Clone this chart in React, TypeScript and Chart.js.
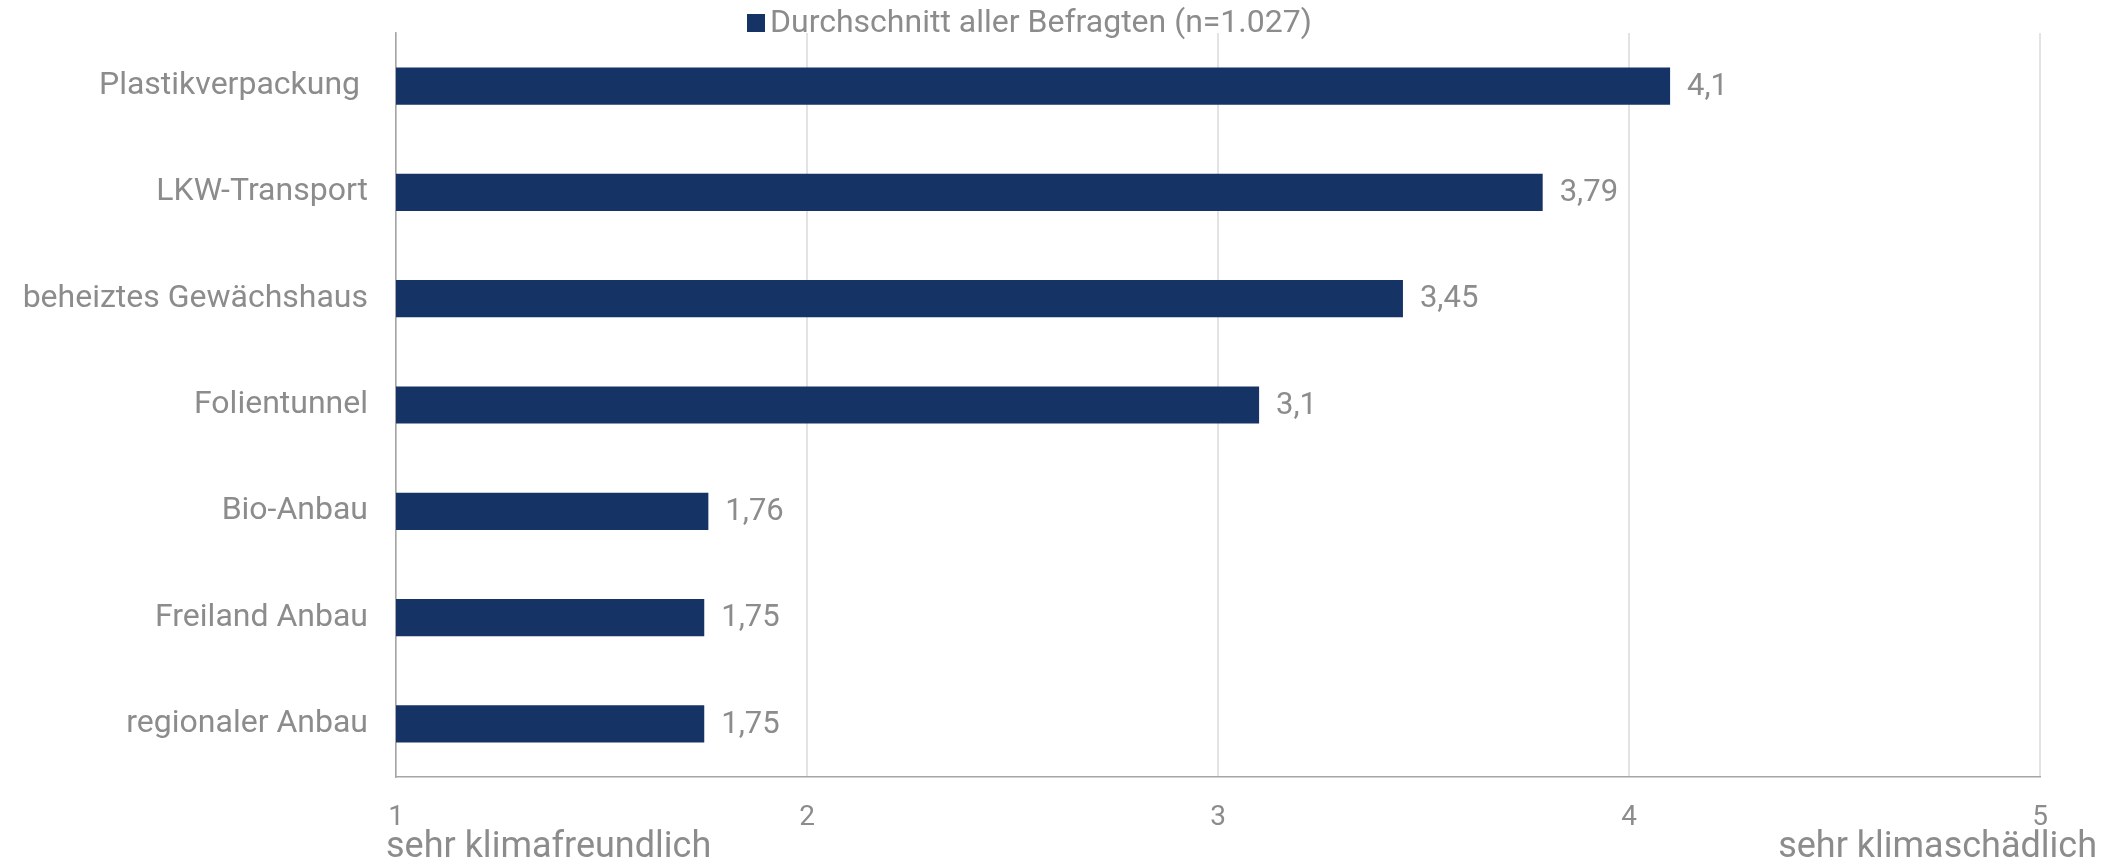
import React, { useEffect, useRef } from 'react';
import { Chart, registerables } from 'chart.js';

Chart.register(...registerables);

const categories = [
  'Plastikverpackung ',
  'LKW-Transport',
  'beheiztes Gewächshaus',
  'Folientunnel',
  'Bio-Anbau',
  'Freiland Anbau',
  'regionaler Anbau',
];
const values = [4.1, 3.79, 3.45, 3.1, 1.76, 1.75, 1.75];
const seriesLabel = 'Durchschnitt aller Befragten (n=1.027)';
const xMin = 1;
const xMax = 5;
const xStep = 1;
const xEndLabels = ['sehr klimafreundlich', 'sehr klimaschädlich'];

const BAR_COLOR = '#163366';
const TEXT_COLOR = '#8c8c8c';
const FONT = 'Roboto';

const fmt = (v: number) => String(v).replace('.', ',');

const legendPlugin = {
  id: 'customLegend',
  afterDraw(chart: any) {
    const ctx = chart.ctx;
    ctx.save();
    ctx.fillStyle = BAR_COLOR;
    ctx.fillRect(747, 14, 18, 18);
    ctx.fillStyle = TEXT_COLOR;
    ctx.font = `32px ${FONT}`;
    ctx.textAlign = 'left';
    ctx.textBaseline = 'alphabetic';
    ctx.fillText(seriesLabel, 770, 32);
    ctx.restore();
  },
};

const dataLabelPlugin = {
  id: 'dataLabels',
  afterDatasetsDraw(chart: any) {
    const ctx = chart.ctx;
    const meta = chart.getDatasetMeta(0);
    ctx.save();
    ctx.fillStyle = TEXT_COLOR;
    ctx.font = `31px ${FONT}`;
    ctx.textAlign = 'left';
    ctx.textBaseline = 'middle';
    meta.data.forEach((el: any, i: number) => {
      ctx.fillText(fmt(values[i]), el.x + 17, el.y + 1);
    });
    ctx.restore();
  },
};

const endLabelPlugin = {
  id: 'endLabels',
  afterDraw(chart: any) {
    const ctx = chart.ctx;
    const xs = chart.scales.x;
    ctx.save();
    ctx.fillStyle = TEXT_COLOR;
    ctx.font = `36px ${FONT}`;
    ctx.textBaseline = 'alphabetic';
    ctx.textAlign = 'left';
    ctx.fillText(xEndLabels[0], xs.getPixelForValue(xMin) - 10, 857);
    ctx.textAlign = 'right';
    ctx.fillText(xEndLabels[1], chart.width - 18, 857);
    ctx.restore();
  },
};

export default function App() {
  const ref = useRef<HTMLCanvasElement | null>(null);

  useEffect(() => {
    if (!ref.current) return;
    const chart = new Chart(ref.current, {
      type: 'bar',
      data: {
        labels: categories,
        datasets: [
          {
            label: seriesLabel,
            data: values,
            backgroundColor: BAR_COLOR,
            borderWidth: 0,
            categoryPercentage: 1,
            barPercentage: 0.35,
          },
        ],
      },
      options: {
        indexAxis: 'y',
        responsive: false,
        animation: false,
        layout: { padding: { top: 33, right: 75, left: 0, bottom: 0 } },
        plugins: {
          legend: { display: false },
          tooltip: { enabled: false },
        },
        scales: {
          x: {
            type: 'linear',
            min: xMin,
            max: xMax,
            ticks: {
              stepSize: xStep,
              color: TEXT_COLOR,
              font: { family: FONT, size: 28 },
              padding: 24,
            },
            grid: { color: '#e3e3e3', lineWidth: 2, drawTicks: false },
            border: { display: true, color: '#a6a6a6', width: 1.5 },
            afterFit: (s: any) => {
              s.height = 86;
              s.paddingLeft = 0;
              s.paddingRight = 0;
            },
          },
          y: {
            type: 'category',
            ticks: {
              color: TEXT_COLOR,
              font: { family: FONT, size: 32 },
              padding: 28,
            },
            grid: { display: false, drawTicks: false },
            border: { display: true, color: '#a6a6a6', width: 1.5 },
            afterFit: (s: any) => {
              s.width = 396;
              s.paddingTop = 0;
              s.paddingBottom = 0;
            },
          },
        },
      },
      plugins: [legendPlugin, dataLabelPlugin, endLabelPlugin],
    });
    return () => chart.destroy();
  }, []);

  return (
    <div style={{ position: 'absolute', left: 0, top: 0, width: 2115, height: 863, background: '#fff' }}>
      <canvas ref={ref} width={2115} height={863} style={{ display: 'block' }} />
    </div>
  );
}
